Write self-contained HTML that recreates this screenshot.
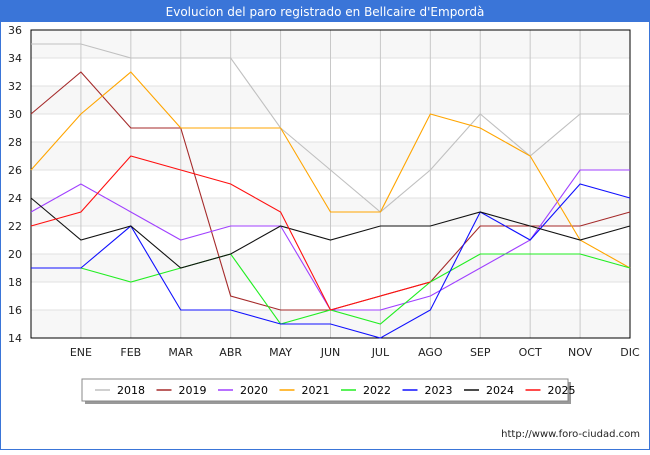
<!DOCTYPE html>
<html><head><meta charset="utf-8"><style>
body{margin:0;width:650px;height:450px;overflow:hidden;background:#fff;font-family:"Liberation Sans","DejaVu Sans",sans-serif}
</style></head><body>
<svg width="650" height="450" font-family="DejaVu Sans, Liberation Sans, sans-serif">
<rect x="0" y="0" width="650" height="450" fill="#fff" stroke="#3a75d8" stroke-width="2"/>
<g id="bands"></g><g id="grid"></g><g id="axes"></g><g id="lines"></g>
<rect x="0" y="0" width="650" height="22" fill="#3a75d8"/>
<text x="325" y="16" text-anchor="middle" fill="#fff" font-size="12">Evolucion del paro registrado en Bellcaire d'Empordà</text>
<rect x="85" y="382" width="486" height="22" fill="#999"/>
<rect x="82" y="379" width="486" height="22" fill="#fff" stroke="#888"/>
<g id="legend"></g>
<text x="640" y="437" text-anchor="end" font-size="10" fill="#222">http://www.foro-ciudad.com</text>
</svg>
<script>
const months=["","ENE","FEB","MAR","ABR","MAY","JUN","JUL","AGO","SEP","OCT","NOV","DIC"];
const yTicks=[14,16,18,20,22,24,26,28,30,32,34,36];
const years=["2018","2019","2020","2021","2022","2023","2024","2025"];
const colors=["#c0c0c0","#a52a2a","#a040ff","#ffa500","#22ee22","#1010ff","#111111","#ff1010"];
const s2018=[35,35,34,34,34,29,26,23,26,30,27,30,30];
const s2019=[30,33,29,29,17,16,16,17,18,22,22,22,23];
const s2020=[23,25,23,21,22,22,16,16,17,19,21,26,26];
const s2021=[26,30,33,29,29,29,23,23,30,29,27,21,19];
const s2022=[null,19,18,19,20,15,16,15,18,20,20,20,19];
const s2023=[19,19,22,16,16,15,15,14,16,23,21,25,24];
const s2024=[24,21,22,19,20,22,21,22,22,23,22,21,22];
const s2025=[22,23,27,26,25,23,16,17,18];
const series=[s2018,s2019,s2020,s2021,s2022,s2023,s2024,s2025];
const X0=31,X1=630,Y0=338,Y1=30;
const xs=i=>X0+(X1-X0)*i/12;
const ys=v=>Y0-(v-14)*(Y0-Y1)/22;
const NS="http://www.w3.org/2000/svg";
function mk(t,a,p){const e=document.createElementNS(NS,t);for(const k in a)e.setAttribute(k,a[k]);document.getElementById(p).appendChild(e);return e;}
for(let v=14;v<36;v+=4){const r=mk("rect",{x:X0,y:ys(v+2),width:X1-X0,height:ys(v)-ys(v+2),fill:"#f7f7f7"},"bands");

}
yTicks.forEach(v=>{const l=mk("line",{x1:X0,x2:X1,y1:ys(v),y2:ys(v),stroke:"#e0e0e0"},"grid");


const t=mk("text",{x:22,y:ys(v)+4,"text-anchor":"end","font-size":"11",fill:"#222"},"axes");t.textContent=v;

});
months.forEach((m,i)=>{const l=mk("line",{x1:xs(i),x2:xs(i),y1:Y1,y2:Y0,stroke:"#c8c8c8"},"grid");


const t=mk("text",{x:xs(i),y:356,"text-anchor":"middle","font-size":"11",fill:"#222"},"axes");t.textContent=m;

});
const fr=mk("rect",{x:X0,y:Y1,width:X1-X0,height:Y0-Y1,fill:"none",stroke:"#000"},"axes");


series.forEach((s,k)=>{let d="",pen=false;s.forEach((v,i)=>{if(v==null){pen=false;return;}d+=(pen?"L":"M")+xs(i)+","+ys(v);pen=true;});
const p=mk("path",{d:d,fill:"none",stroke:colors[k],"stroke-width":"1.1"},"lines");


const lx=95+k*61.5;
const ll=mk("line",{x1:lx,x2:lx+15,y1:390,y2:390,stroke:colors[k],"stroke-width":"1.5"},"legend");


const lt=mk("text",{x:lx+22,y:394,"font-size":"11",fill:"#000"},"legend");lt.textContent=years[k];

});
</script>
</body></html>
